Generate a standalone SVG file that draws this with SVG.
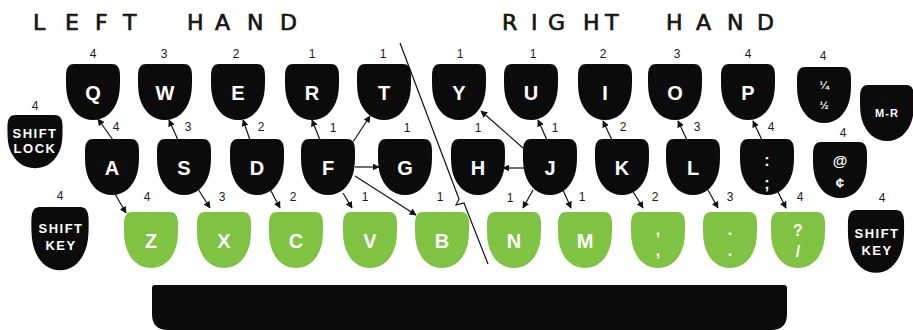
<svg xmlns="http://www.w3.org/2000/svg" xmlns:xlink="http://www.w3.org/1999/xlink" width="913" height="330" viewBox="0 0 913 330">
<style>
.blk{fill:#0b0b0b}
.grn{fill:#80c342}
.k{font-family:"Liberation Sans",Arial,sans-serif;font-weight:bold;font-size:20px;fill:#fff;text-anchor:middle}
.s{font-family:"Liberation Sans",Arial,sans-serif;font-weight:bold;font-size:13px;fill:#fff;text-anchor:middle;letter-spacing:1.5px}
.p{font-family:"Liberation Sans",Arial,sans-serif;font-weight:bold;font-size:16px;fill:#fff;text-anchor:middle}
.n{font-family:"Liberation Sans",Arial,sans-serif;font-size:12px;fill:#1a1a1a;text-anchor:middle}
.t{font-family:"DejaVu Sans",sans-serif;font-size:22px;fill:#151515;stroke:#151515;stroke-width:0.7}
.ar{stroke:#111;stroke-width:1.2;fill:none;marker-end:url(#ah)}
</style>
<defs>
<path id="key" d="M -19,0 H 19 C 24,0 27,3 27,12 C 27,22 27,28 25,35 C 21,48 12,56 0,56 C -12,56 -21,48 -25,35 C -27,28 -27,22 -27,12 C -27,3 -24,0 -19,0 Z"/>
<marker id="ah" viewBox="0 0 10 10" refX="9" refY="5" markerWidth="7" markerHeight="7" markerUnits="userSpaceOnUse" orient="auto">
<path d="M0,0 L10,5 L0,10 Z" fill="#111"/>
</marker>
</defs>
<rect width="913" height="330" fill="#fff"/>

<g id="titles">
<text class="t" x="33 65 95 123 160 187 215 247 280" y="30">LEFT HAND</text>
<text class="t" x="502 531 548 583 605 640 666 696 727 757" y="30">RIGHT HAND</text>
</g>

<g id="divider">
<polyline points="400,43 459,199 456,205 464,203 488,264" fill="none" stroke="#111" stroke-width="1.2"/>
</g>

<g id="space-bar">
<path class="blk" d="M 152,285 H 784 Q 787,285 787,288 V 314 Q 787,330 771,330 H 168 Q 152,330 152,314 V 288 Q 152,285 155,285 Z"/>
</g>

<!-- top row -->
<g id="key-Q"><use href="#key" x="93" y="64" class="blk"/><text class="k" x="93" y="100">Q</text></g>
<g id="key-W"><use href="#key" x="165" y="64" class="blk"/><text class="k" x="165" y="100">W</text></g>
<g id="key-E"><use href="#key" x="238" y="64" class="blk"/><text class="k" x="238" y="100">E</text></g>
<g id="key-R"><use href="#key" x="312" y="64" class="blk"/><text class="k" x="312" y="100">R</text></g>
<g id="key-T"><use href="#key" x="384" y="64" class="blk"/><text class="k" x="384" y="100">T</text></g>
<g id="key-Y"><use href="#key" x="459" y="64" class="blk"/><text class="k" x="459" y="100">Y</text></g>
<g id="key-U"><use href="#key" x="531" y="64" class="blk"/><text class="k" x="531" y="100">U</text></g>
<g id="key-I"><use href="#key" x="605" y="64" class="blk"/><text class="k" x="605" y="100">I</text></g>
<g id="key-O"><use href="#key" x="675" y="64" class="blk"/><text class="k" x="675" y="100">O</text></g>
<g id="key-P"><use href="#key" x="748" y="64" class="blk"/><text class="k" x="748" y="100">P</text></g>
<g id="key-frac"><use href="#key" x="824" y="67" class="blk"/>
<text class="s" x="824" y="89" style="font-size:11px;letter-spacing:0">¼</text>
<text class="s" x="824" y="109" style="font-size:11px;letter-spacing:0">½</text></g>
<g id="key-MR"><use href="#key" x="887" y="85" class="blk"/><text class="s" x="887" y="117" style="font-size:11px;letter-spacing:1px">M-R</text></g>

<!-- middle row -->
<g id="key-shiftlock"><use href="#key" x="35" y="115" class="blk" transform="translate(35,115) scale(1.02,0.95) translate(-35,-115)"/>
<text class="s" x="35" y="138">SHIFT</text><text class="s" x="35" y="153">LOCK</text></g>
<g id="key-A"><use href="#key" x="112" y="139" class="blk"/><text class="k" x="112" y="175">A</text></g>
<g id="key-S"><use href="#key" x="184" y="139" class="blk"/><text class="k" x="184" y="175">S</text></g>
<g id="key-D"><use href="#key" x="257" y="139" class="blk"/><text class="k" x="257" y="175">D</text></g>
<g id="key-F"><use href="#key" x="328" y="139" class="blk"/><text class="k" x="328" y="175">F</text></g>
<g id="key-G"><use href="#key" x="405" y="139" class="blk"/><text class="k" x="405" y="175">G</text></g>
<g id="key-H"><use href="#key" x="478" y="139" class="blk"/><text class="k" x="478" y="175">H</text></g>
<g id="key-J"><use href="#key" x="550" y="139" class="blk"/><text class="k" x="550" y="175">J</text></g>
<g id="key-K"><use href="#key" x="622" y="139" class="blk"/><text class="k" x="622" y="175">K</text></g>
<g id="key-L"><use href="#key" x="693" y="139" class="blk"/><text class="k" x="693" y="175">L</text></g>
<g id="key-colon"><use href="#key" x="767" y="139" class="blk"/><text class="p" x="767" y="166">:</text><text class="p" x="767" y="189">;</text></g>
<g id="key-at"><use href="#key" x="840" y="142" class="blk"/><text class="p" x="840" y="166" style="font-size:15px">@</text><text class="p" x="840" y="188" style="font-size:15px">¢</text></g>

<!-- bottom row -->
<g id="key-shift-left"><use href="#key" x="60" y="207" class="blk" transform="translate(60,207) scale(1.06,1.13) translate(-60,-207)"/>
<text class="s" x="61" y="233">SHIFT</text><text class="s" x="61" y="250">KEY</text></g>
<g id="key-Z"><use href="#key" x="151" y="212" class="grn"/><text class="k" x="151" y="248">Z</text></g>
<g id="key-X"><use href="#key" x="224" y="212" class="grn"/><text class="k" x="224" y="248">X</text></g>
<g id="key-C"><use href="#key" x="296" y="212" class="grn"/><text class="k" x="296" y="248">C</text></g>
<g id="key-V"><use href="#key" x="370" y="212" class="grn"/><text class="k" x="370" y="248">V</text></g>
<g id="key-B"><use href="#key" x="442" y="212" class="grn"/><text class="k" x="442" y="248">B</text></g>
<g id="key-N"><use href="#key" x="514" y="212" class="grn"/><text class="k" x="514" y="248">N</text></g>
<g id="key-M"><use href="#key" x="585" y="212" class="grn"/><text class="k" x="585" y="248">M</text></g>
<g id="key-comma"><use href="#key" x="658" y="212" class="grn"/><text class="p" x="658" y="235">,</text><text class="p" x="658" y="256">,</text></g>
<g id="key-period"><use href="#key" x="730" y="212" class="grn"/><text class="p" x="730" y="235">.</text><text class="p" x="730" y="256">.</text></g>
<g id="key-slash"><use href="#key" x="798" y="212" class="grn"/><text class="p" x="798" y="236">?</text><text class="p" x="798" y="257">/</text></g>
<g id="key-shift-right"><use href="#key" x="876" y="210" class="blk" transform="translate(876,210) scale(1.04,1.12) translate(-876,-210)"/>
<text class="s" x="877" y="238">SHIFT</text><text class="s" x="877" y="255">KEY</text></g>

<g id="connectors">
<line class="ar" x1="113" y1="140" x2="98" y2="119"/>
<line class="ar" x1="115" y1="194" x2="126" y2="213"/>
<line class="ar" x1="178" y1="140" x2="169" y2="120"/>
<line class="ar" x1="198" y1="189" x2="210" y2="208"/>
<line class="ar" x1="250" y1="140" x2="243" y2="120"/>
<line class="ar" x1="270" y1="189" x2="280" y2="208"/>
<line class="ar" x1="320" y1="140" x2="312" y2="120"/>
<line class="ar" x1="353" y1="142" x2="370" y2="116"/>
<line class="ar" x1="355" y1="167" x2="379" y2="167"/>
<line class="ar" x1="343" y1="193" x2="352" y2="208"/>
<line class="ar" x1="355" y1="176" x2="416" y2="215"/>
<line class="ar" x1="523" y1="148" x2="481" y2="111"/>
<line class="ar" x1="547" y1="140" x2="538" y2="120"/>
<line class="ar" x1="524" y1="168" x2="503" y2="168"/>
<line class="ar" x1="533" y1="190" x2="523" y2="208"/>
<line class="ar" x1="563" y1="190" x2="571" y2="208"/>
<line class="ar" x1="612" y1="140" x2="603" y2="121"/>
<line class="ar" x1="632" y1="190" x2="643" y2="208"/>
<line class="ar" x1="687" y1="140" x2="678" y2="121"/>
<line class="ar" x1="708" y1="190" x2="718" y2="208"/>
<line class="ar" x1="762" y1="140" x2="753" y2="121"/>
<line class="ar" x1="777" y1="190" x2="786" y2="208"/>
</g>

<g id="finger-numbers">
<text class="n" x="93" y="58">4</text>
<text class="n" x="164" y="58">3</text>
<text class="n" x="236" y="58">2</text>
<text class="n" x="312" y="58">1</text>
<text class="n" x="383" y="58">1</text>
<text class="n" x="460" y="58">1</text>
<text class="n" x="533" y="58">1</text>
<text class="n" x="603" y="58">2</text>
<text class="n" x="677" y="58">3</text>
<text class="n" x="748" y="58">4</text>
<text class="n" x="823" y="60">4</text>
<text class="n" x="35" y="110">4</text>
<text class="n" x="116" y="131">4</text>
<text class="n" x="188" y="131">3</text>
<text class="n" x="261" y="131">2</text>
<text class="n" x="333" y="132">1</text>
<text class="n" x="407" y="132">1</text>
<text class="n" x="478" y="132">1</text>
<text class="n" x="555" y="132">1</text>
<text class="n" x="623" y="131">2</text>
<text class="n" x="697" y="131">3</text>
<text class="n" x="771" y="131">4</text>
<text class="n" x="843" y="137">4</text>
<text class="n" x="60" y="200">4</text>
<text class="n" x="147" y="201">4</text>
<text class="n" x="222" y="201">3</text>
<text class="n" x="293" y="201">2</text>
<text class="n" x="365" y="201">1</text>
<text class="n" x="440" y="201">1</text>
<text class="n" x="510" y="202">1</text>
<text class="n" x="582" y="201">1</text>
<text class="n" x="655" y="201">2</text>
<text class="n" x="730" y="201">3</text>
<text class="n" x="800" y="201">4</text>
<text class="n" x="882" y="202">4</text>
</g>
</svg>
